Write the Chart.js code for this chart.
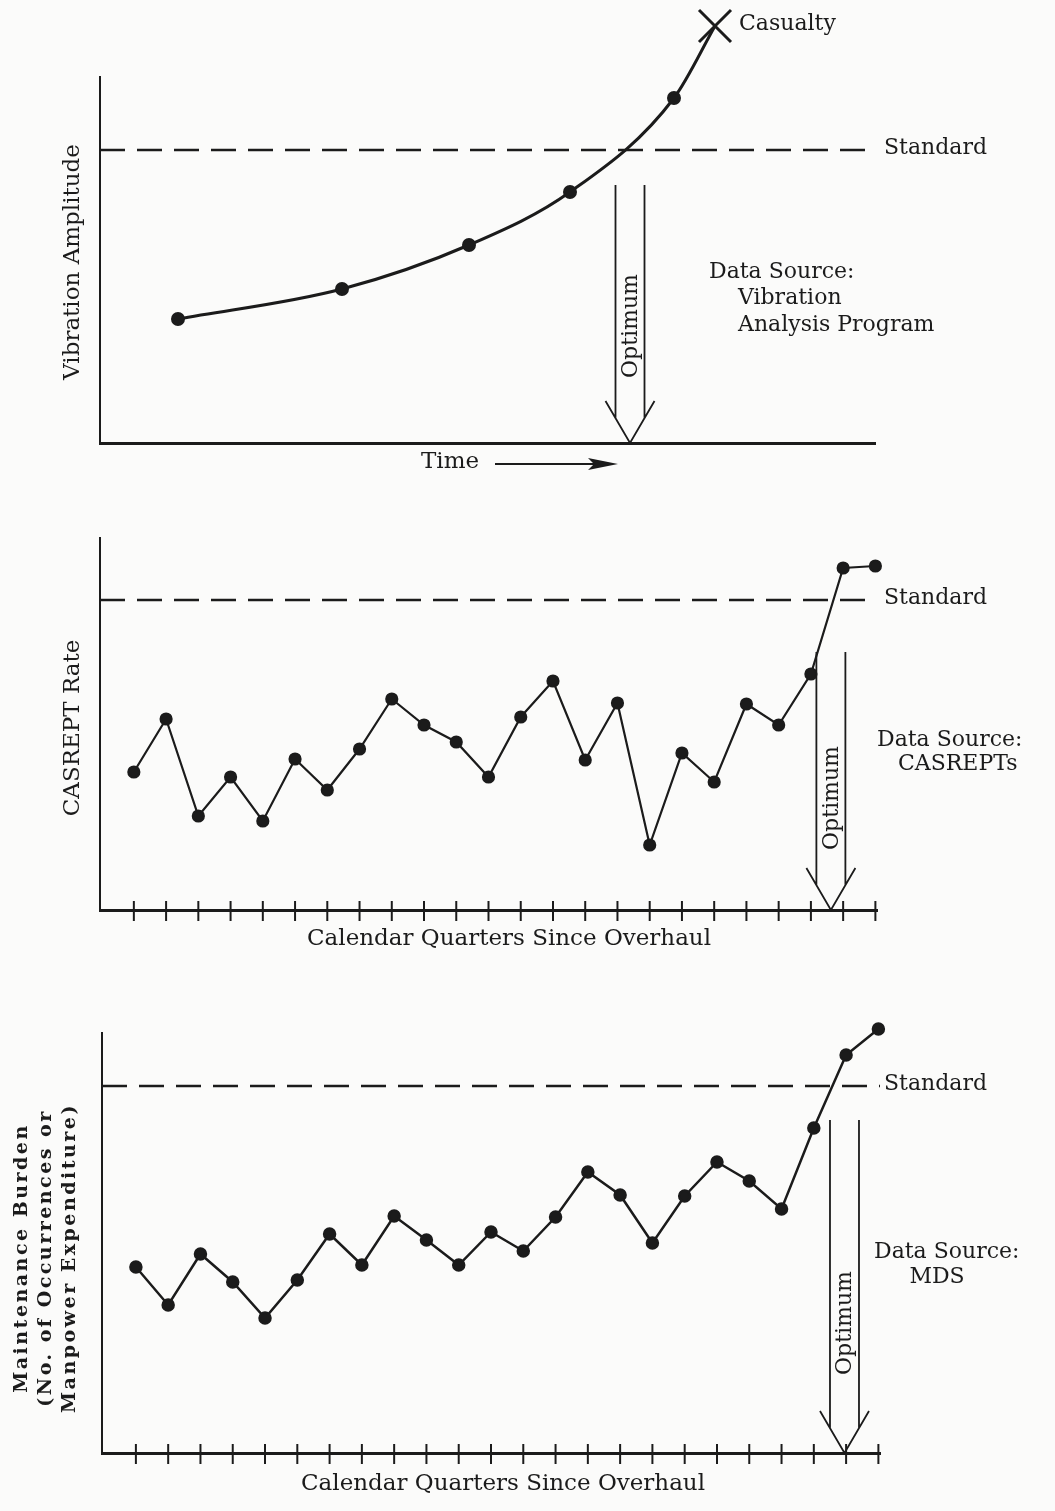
<!DOCTYPE html>
<html>
<head>
<meta charset="utf-8">
<script src="https://cdn.jsdelivr.net/npm/chart.js@4.4.1/dist/chart.umd.min.js"></script>
<style>
  html, body { margin: 0; padding: 0; background: #fbfbfa; }
  #page { position: relative; width: 1055px; height: 1511px; overflow: hidden; }
  canvas { position: absolute; left: 0; }
</style>
</head>
<body>
<div id="page">
  <canvas id="vib" width="1055" height="490" style="top:0px"></canvas>
  <canvas id="cas" width="1055" height="470" style="top:490px"></canvas>
  <canvas id="mds" width="1055" height="551" style="top:960px"></canvas>
</div>
<script>
// values (arbitrary units, 0 = time axis)
const vibTime = [7.8, 24.2, 36.9, 47.0, 57.4, 61.5];
const vibAmplitude = [12.4, 15.4, 19.8, 25.1, 34.5, 41.7];
const vibStandard = 29.3;

const quarters = [1, 2, 3, 4, 5, 6, 7, 8, 9, 10, 11, 12, 13, 14, 15, 16, 17, 18, 19, 20, 21, 22, 23, 24];
const casreptRate = [13.8, 19.1, 9.4, 13.3, 8.9, 15.1, 12.0, 16.1, 21.1, 18.5, 16.8, 13.3,
                     19.3, 22.9, 15.0, 20.7, 6.5, 15.7, 12.8, 20.6, 18.5, 23.6, 34.2, 34.4];
const casreptStandard = 31.0;

const mdsBurden = [18.6, 14.8, 19.9, 17.1, 13.5, 17.3, 21.9, 18.8, 23.7, 21.3, 18.8, 22.1,
                   20.2, 23.6, 28.1, 25.8, 21.0, 25.7, 29.1, 27.2, 24.4, 32.5, 39.8, 42.4];
const mdsStandard = 36.7;

const INK = '#1b1b1b';
const SERIF = '"DejaVu Serif", "Liberation Serif", serif';

function pairs(xs, ys) {
  return xs.map((x, i) => ({ x: x, y: ys[i] }));
}

// draws the figure's annotations: ticks, standard label, optimum arrow, texts
const decor = {
  id: 'decor',
  afterDatasetsDraw(chart, args, opts) {
    const ctx = chart.ctx;
    const xs = chart.scales.x, ys = chart.scales.y;
    const area = chart.chartArea;
    ctx.save();
    ctx.fillStyle = INK;
    ctx.strokeStyle = INK;

    // ticks crossing the time axis, one per quarter
    if (opts.ticks) {
      ctx.lineWidth = 2;
      opts.ticks.forEach(q => {
        const x = xs.getPixelForValue(q);
        ctx.beginPath();
        ctx.moveTo(x, area.bottom - 9);
        ctx.lineTo(x, area.bottom + 11);
        ctx.stroke();
      });
    }

    // casualty cross on the last point of the curve (it sits above the plot area)
    if (opts.casualty) {
      const meta = chart.getDatasetMeta(1);
      const el = meta.data[meta.data.length - 1];
      const r = 16;
      ctx.lineWidth = 3;
      ctx.beginPath();
      ctx.moveTo(el.x - r, el.y - r); ctx.lineTo(el.x + r, el.y + r);
      ctx.moveTo(el.x + r, el.y - r); ctx.lineTo(el.x - r, el.y + r);
      ctx.stroke();
    }

    // standard label at the end of the dashed line
    ctx.font = '22px ' + SERIF;
    ctx.textBaseline = 'middle';
    ctx.textAlign = 'left';
    ctx.fillText('Standard', 884, ys.getPixelForValue(opts.standard) - 2);

    // optimum arrow
    const o = opts.optimum;
    const tip = xs.getPixelForValue(o.at);
    const top = ys.getPixelForValue(o.from);
    const base = area.bottom;
    const hw = 14.5, headW = 24.5, headH = 42;
    const shaftEnd = base - headH + headH * (headW - hw) / headW;
    ctx.lineWidth = 1.8;
    ctx.beginPath();
    ctx.moveTo(tip - hw, top); ctx.lineTo(tip - hw, shaftEnd);
    ctx.moveTo(tip + hw, top); ctx.lineTo(tip + hw, shaftEnd);
    ctx.moveTo(tip - headW, base - headH); ctx.lineTo(tip, base); ctx.lineTo(tip + headW, base - headH);
    ctx.stroke();
    ctx.save();
    ctx.translate(tip + 1, o.labelY);
    ctx.rotate(-Math.PI / 2);
    ctx.textAlign = 'center';
    ctx.font = '22px ' + SERIF;
    ctx.fillText('Optimum', 0, 0);
    ctx.restore();

    // axis titles
    const yt = opts.yTitle;
    ctx.save();
    ctx.font = yt.font;
    if (yt.spacing) ctx.letterSpacing = yt.spacing;
    ctx.textAlign = 'center';
    yt.lines.forEach((line, i) => {
      ctx.save();
      ctx.translate(yt.x[i], yt.y);
      ctx.rotate(-Math.PI / 2);
      ctx.fillText(line, 0, 0);
      ctx.restore();
    });
    ctx.restore();

    if (opts.xTitle) {
      ctx.font = '23px ' + SERIF;
      ctx.textAlign = 'center';
      ctx.fillText(opts.xTitle.text, opts.xTitle.x, opts.xTitle.y);
    }

    // free notes
    (opts.notes || []).forEach(n => {
      ctx.save();
      ctx.font = (n.size || 22) + 'px ' + SERIF;
      ctx.textAlign = n.align || 'left';
      if (n.spacing) ctx.letterSpacing = n.spacing;
      ctx.fillText(n.text, n.x, n.y);
      ctx.restore();
    });

    // "Time --->" arrow under the first chart
    if (opts.timeArrow) {
      const ta = opts.timeArrow;
      ctx.lineWidth = 2;
      ctx.beginPath();
      ctx.moveTo(ta.from, ta.y); ctx.lineTo(ta.to - 20, ta.y);
      ctx.stroke();
      ctx.beginPath();
      ctx.moveTo(ta.to, ta.y);
      ctx.lineTo(ta.to - 30, ta.y - 6);
      ctx.lineTo(ta.to - 24, ta.y);
      ctx.lineTo(ta.to - 30, ta.y + 6);
      ctx.closePath();
      ctx.fill();
    }
    ctx.restore();
  }
};

function axes(xMin, xMax, yMax) {
  const common = {
    display: true,
    grid: { display: false, drawTicks: false },
    ticks: { display: false }
  };
  return {
    x: Object.assign({}, common, { type: 'linear', min: xMin, max: xMax,
      border: { display: true, color: INK, width: 3 } }),
    y: Object.assign({}, common, { type: 'linear', min: 0, max: yMax,
      border: { display: true, color: INK, width: 2 } })
  };
}

function standardLine(xMin, xMax, v) {
  return {
    data: [{ x: xMin, y: v }, { x: xMax, y: v }],
    borderColor: INK, borderWidth: 2.5, borderDash: [25, 12],
    pointRadius: 0, fill: false, tension: 0
  };
}

function baseOptions(padding, scales, decorOpts) {
  return {
    responsive: false,
    animation: false,
    events: [],
    layout: { padding: padding, autoPadding: false },
    scales: scales,
    plugins: { legend: { display: false }, tooltip: { enabled: false }, decor: decorOpts }
  };
}

// vibration amplitude vs time
new Chart(document.getElementById('vib'), {
  type: 'line',
  data: {
    datasets: [
      standardLine(0, 77.5, vibStandard),
      {
        data: pairs(vibTime, vibAmplitude),
        borderColor: INK, borderWidth: 3, clip: false,
        cubicInterpolationMode: 'monotone',
        pointRadius: [5.5, 5.5, 5.5, 5.5, 5.5, 0],
        pointBackgroundColor: INK, pointBorderColor: INK
      }
    ]
  },
  options: baseOptions({ left: 100, right: 180, top: 77, bottom: 47 }, axes(0, 77.5, 36.6), {
    casualty: true,
    standard: vibStandard,
    optimum: { at: 53.0, from: 25.8, labelY: 326 },
    yTitle: { lines: ['Vibration Amplitude'], x: [73], y: 262, font: '23px ' + SERIF },
    notes: [
      { text: 'Casualty', x: 739, y: 24 },
      { text: 'Data Source:', x: 709, y: 272 },
      { text: 'Vibration', x: 738, y: 298 },
      { text: 'Analysis Program', x: 738, y: 325 },
      { text: 'Time', x: 421, y: 462, size: 23 }
    ],
    timeArrow: { from: 495, to: 618, y: 464 }
  }),
  plugins: [decor]
});

// CASREPT rate per quarter
new Chart(document.getElementById('cas'), {
  type: 'line',
  data: {
    datasets: [
      standardLine(-0.05, 24.05, casreptStandard),
      {
        data: pairs(quarters, casreptRate),
        borderColor: INK, borderWidth: 2.2, tension: 0, clip: false,
        pointRadius: 5.5, pointBackgroundColor: INK, pointBorderColor: INK
      }
    ]
  },
  options: baseOptions({ left: 100, right: 178, top: 48, bottom: 50 }, axes(-0.05, 24.05, 37.2), {
    ticks: quarters,
    standard: casreptStandard,
    optimum: { at: 22.62, from: 25.8, labelY: 308 },
    yTitle: { lines: ['CASREPT Rate'], x: [73], y: 238, font: '23px ' + SERIF },
    xTitle: { text: 'Calendar Quarters Since Overhaul', x: 509, y: 449 },
    notes: [
      { text: 'Data Source:', x: 877, y: 250 },
      { text: 'CASREPTs', x: 898, y: 274 }
    ]
  }),
  plugins: [decor]
});

// maintenance burden per quarter
new Chart(document.getElementById('mds'), {
  type: 'line',
  data: {
    datasets: [
      standardLine(-0.05, 24.05, mdsStandard),
      {
        data: pairs(quarters, mdsBurden),
        borderColor: INK, borderWidth: 2.5, tension: 0, clip: false,
        pointRadius: 5.5, pointBackgroundColor: INK, pointBorderColor: INK
      }
    ]
  },
  options: baseOptions({ left: 102, right: 175, top: 73, bottom: 58 }, axes(-0.05, 24.05, 42.0), {
    ticks: quarters,
    standard: mdsStandard,
    optimum: { at: 22.95, from: 33.3, labelY: 363 },
    yTitle: {
      lines: ['Maintenance Burden', '(No. of Occurrences or', 'Manpower Expenditure)'],
      x: [22, 46, 70], y: 298, font: 'bold 19px ' + SERIF, spacing: '2.5px'
    },
    xTitle: { text: 'Calendar Quarters Since Overhaul', x: 503, y: 524 },
    notes: [
      { text: 'Data Source:', x: 874, y: 292 },
      { text: 'MDS', x: 937, y: 317, align: 'center' }
    ]
  }),
  plugins: [decor]
});
</script>
</body>
</html>
